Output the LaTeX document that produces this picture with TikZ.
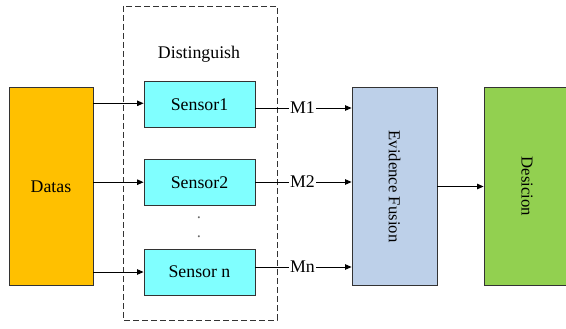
\documentclass[tikz,border=0pt]{standalone}
\usepackage{fontspec}
\setmainfont{Liberation Serif}
\usetikzlibrary{arrows.meta}
\definecolor{dataorange}{HTML}{FFC000}
\definecolor{sensorcyan}{HTML}{80FFFF}
\definecolor{fusionblue}{HTML}{BDD0E9}
\definecolor{decgreen}{HTML}{92D050}
\definecolor{edgegray}{HTML}{333333}
\tikzset{
  every node/.style={font=\fontsize{16.7}{19}\selectfont, inner sep=0pt},
  htext/.style={font=\fontsize{17.8}{20}\selectfont},
  blockbox/.style={draw=edgegray, line width=0.9pt, anchor=center},
  sensorbox/.style={blockbox, htext, fill=sensorcyan, minimum width=111, minimum height=46},
  conn/.style={draw=black, line width=0.9pt},
  arr/.style={conn, -{Triangle[length=6.5pt,width=5.5pt]}},
  mlabel/.style={htext, fill=white, inner xsep=1pt, inner ysep=1pt}
}
\begin{document}
\begin{tikzpicture}[x=1pt,y=-1pt]
\useasboundingbox (0,0) rectangle (566,329);
% dashed container
\draw[draw=edgegray, line width=0.9pt, dash pattern=on 6pt off 3pt] (123,6) rectangle (277,320);
\node[htext] (dist) at (199,54) {Distinguish};
% data block
\node[blockbox, htext, fill=dataorange, minimum width=84, minimum height=198] (da) at (51,186.5) {Datas};
% sensors
\node[sensorbox] (s1) at (199.5,104.7) {Sensor1};
\node[sensorbox] (s2) at (199.5,182.2) {Sensor2};
\node[sensorbox] (sn) at (199.5,272) {Sensor n};
\node[text=black!60] (dot1) at (199,218) {.};
\node[text=black!60] (dot2) at (199,237) {.};
% fusion
\node[blockbox, fill=fusionblue, minimum width=85, minimum height=198] (ef) at (394.5,186.5) {\rotatebox{-90}{Evidence Fusion}};
% decision (cut at the right edge)
\begin{scope}
\clip (0,0) rectangle (566,329);
\node[blockbox, fill=decgreen, minimum width=86, minimum height=198] (de) at (527,186.5) {\rotatebox{-90}{Desicion}};
\end{scope}
% arrows from data to sensors
\draw[arr] (da.east |- s1.west) ++(0,-1.4) coordinate (a1) -- (a1 -| s1.west);
\draw[arr] (da.east |- s2.west) -- (s2.west);
\draw[arr] (da.east |- sn.west) -- (sn.west);
% M labels
\coordinate (c1) at (302.5,108);
\coordinate (c2) at (302.5,182);
\coordinate (cn) at (302.5,267);
\draw[conn] (s1.east |- c1) -- (c1);
\draw[conn] (s2.east |- c2) -- (c2);
\draw[conn] (sn.east |- cn) -- (cn);
\draw[arr] (c1) -- (c1 -| ef.west);
\draw[arr] (c2) -- (c2 -| ef.west);
\draw[arr] (cn) -- (cn -| ef.west);
\node[mlabel] (m1) at (c1) {M1};
\node[mlabel] (m2) at (c2) {M2};
\node[mlabel] (mn) at (cn) {Mn};
% fusion to decision
\draw[arr] (ef.east) -- (de.west);
\end{tikzpicture}
\end{document}
